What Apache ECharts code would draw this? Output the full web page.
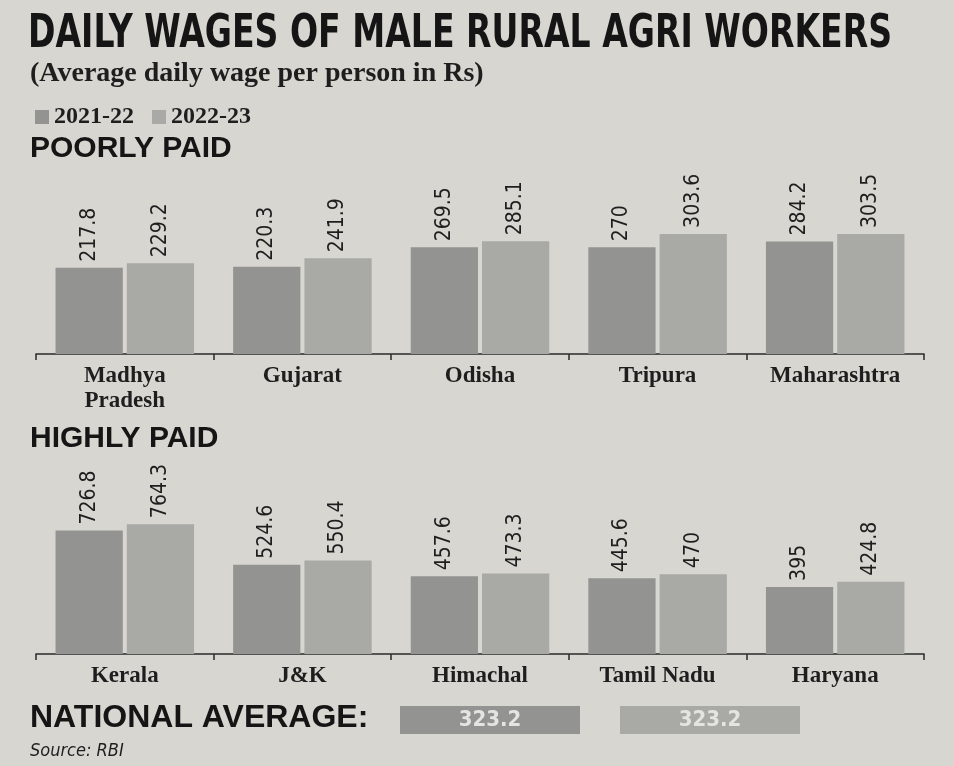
<!DOCTYPE html>
<html>
<head>
<meta charset="utf-8">
<script src="https://cdn.jsdelivr.net/npm/echarts@6/dist/echarts.min.js"></script>
<style>
html,body{margin:0;padding:0;background:#d7d6d1;}
#chart{width:954px;height:766px;}
</style>
</head>
<body>
<div id="chart"></div>
<script>
var seriesNames = ['2021-22', '2022-23'];
var poorStates = ['Madhya\nPradesh', 'Gujarat', 'Odisha', 'Tripura', 'Maharashtra'];
var poor2122 = [217.8, 220.3, 269.5, 270, 284.2];
var poor2223 = [229.2, 241.9, 285.1, 303.6, 303.5];
var highStates = ['Kerala', 'J&K', 'Himachal', 'Tamil Nadu', 'Haryana'];
var high2122 = [726.8, 524.6, 457.6, 445.6, 395];
var high2223 = [764.3, 550.4, 473.3, 470, 424.8];
var nationalAvg = [323.2, 323.2];

var colA = '#939391', colB = '#a9a9a6';
var ink = '#1e1e1e';
var condensed = '"DejaVu Sans Condensed","DejaVu Sans",sans-serif';
var serif = '"Liberation Serif","DejaVu Serif",serif';
var sans = '"Liberation Sans","DejaVu Sans",sans-serif';

var chart = echarts.init(document.getElementById('chart'));

function valueLabel() {
  return {show: true, position: 'top', rotate: 90, align: 'left', verticalAlign: 'middle',
    distance: 6, fontFamily: condensed, fontSize: 21, color: ink,
    formatter: function(p){ return p.value; }};
}
function xAxisCfg(idx, cats) {
  return {type: 'category', gridIndex: idx, data: cats,
    axisLine: {show: true, lineStyle: {color: '#2a2a2a', width: 1.5}},
    axisTick: {show: true, length: 6, lineStyle: {color: '#2a2a2a', width: 1.5}},
    axisLabel: {fontFamily: serif, fontWeight: 'bold', fontSize: 23, color: ink, margin: 10, lineHeight: 25, interval: 0}};
}
function yAxisCfg(idx, max) {
  return {type: 'value', gridIndex: idx, min: 0, max: max, show: false, splitLine: {show: false}};
}

var nx1 = 400, nx2 = 620, ny = 706, bw = 180, bh = 28;

chart.setOption({
  backgroundColor: '#d7d6d1',
  animation: false,
  legend: {
    left: 30, top: 100, itemWidth: 14, itemHeight: 14, itemGap: 18,
    icon: 'rect',
    textStyle: {fontFamily: serif, fontWeight: 'bold', fontSize: 24, color: ink},
    data: seriesNames
  },
  grid: [
    {left: 36, right: 30, top: 172, height: 182},
    {left: 36, right: 30, top: 462, height: 192}
  ],
  xAxis: [xAxisCfg(0, poorStates), xAxisCfg(1, highStates)],
  yAxis: [yAxisCfg(0, 460), yAxisCfg(1, 1130)],
  series: [
    {name: seriesNames[0], type: 'bar', xAxisIndex: 0, yAxisIndex: 0, data: poor2122,
      itemStyle: {color: colA}, barGap: '6%', barCategoryGap: '22%', label: valueLabel()},
    {name: seriesNames[1], type: 'bar', xAxisIndex: 0, yAxisIndex: 0, data: poor2223,
      itemStyle: {color: colB}, barGap: '6%', barCategoryGap: '22%', label: valueLabel()},
    {name: seriesNames[0], type: 'bar', xAxisIndex: 1, yAxisIndex: 1, data: high2122,
      itemStyle: {color: colA}, barGap: '6%', barCategoryGap: '22%', label: valueLabel()},
    {name: seriesNames[1], type: 'bar', xAxisIndex: 1, yAxisIndex: 1, data: high2223,
      itemStyle: {color: colB}, barGap: '6%', barCategoryGap: '22%', label: valueLabel()}
  ],
  graphic: [
    {type: 'text', x: 28, y: 12, scaleX: 0.8, style: {text: 'DAILY WAGES OF MALE RURAL AGRI WORKERS',
      font: 'bold 46px ' + condensed, fill: '#151515'}},
    {type: 'text', x: 30, y: 60, style: {text: '(Average daily wage per person in Rs)',
      font: 'bold 28px ' + serif, fill: ink}},
    {type: 'text', x: 30, y: 134, style: {text: 'POORLY PAID',
      font: 'bold 30px ' + sans, fill: '#151515'}},
    {type: 'text', x: 30, y: 424, style: {text: 'HIGHLY PAID',
      font: 'bold 30px ' + sans, fill: '#151515'}},
    {type: 'text', x: 30, y: 702, style: {text: 'NATIONAL AVERAGE:',
      font: 'bold 32px ' + sans, fill: '#151515'}},
    {type: 'rect', x: nx1, y: ny, shape: {width: bw, height: bh}, style: {fill: colA}},
    {type: 'text', x: nx1 + bw / 2, y: ny + bh / 2, style: {text: String(nationalAvg[0]), align: 'center', verticalAlign: 'middle',
      font: 'bold 22px ' + condensed, fill: '#e4e4e0'}},
    {type: 'rect', x: nx2, y: ny, shape: {width: bw, height: bh}, style: {fill: colB}},
    {type: 'text', x: nx2 + bw / 2, y: ny + bh / 2, style: {text: String(nationalAvg[1]), align: 'center', verticalAlign: 'middle',
      font: 'bold 22px ' + condensed, fill: '#e4e4e0'}},
    {type: 'text', x: 30, y: 742, style: {text: 'Source: RBI',
      font: 'italic 18px ' + condensed, fill: ink}}
  ]
});
</script>
</body>
</html>
